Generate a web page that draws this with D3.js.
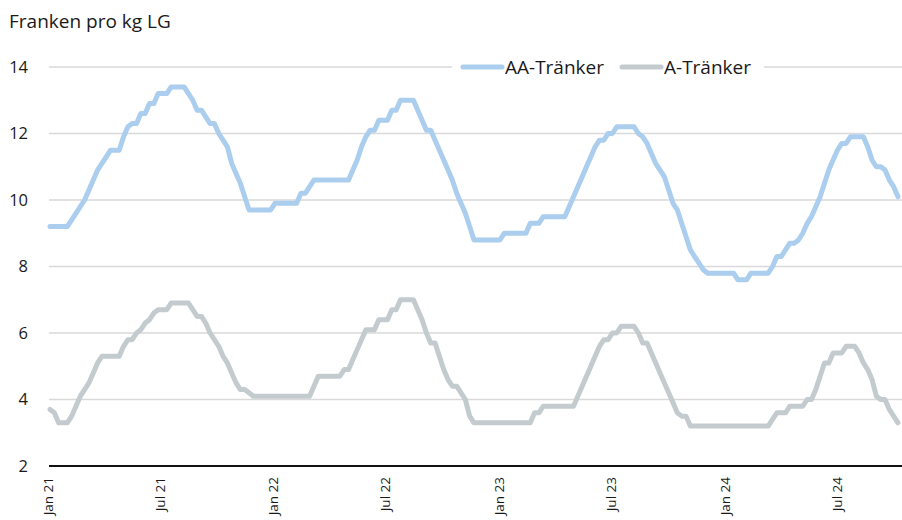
<!DOCTYPE html>
<meta charset="utf-8">
<script src="https://cdn.jsdelivr.net/npm/d3@7"></script>
<style>
  body { margin: 0; background: #fff; }
  text { font-family: "Open Sans", Lato, sans-serif; fill: #1a1a1a; }
</style>
<div id="chart"></div>
<script>

// weekly prices, first week of Jan 2021 onwards
var firstWeek = new Date(2021, 0, 4);

var aaTraenker = [
  9.2, 9.2, 9.2, 9.2, 9.2, 9.4, 9.6, 9.8, 10.0, 10.3,
  10.6, 10.9, 11.1, 11.3, 11.5, 11.5, 11.5, 11.9, 12.2, 12.3,
  12.3, 12.6, 12.6, 12.9, 12.9, 13.2, 13.2, 13.2, 13.4, 13.4,
  13.4, 13.4, 13.2, 13.0, 12.7, 12.7, 12.5, 12.3, 12.3, 12.0,
  11.8, 11.6, 11.1, 10.8, 10.5, 10.1, 9.7, 9.7, 9.7, 9.7,
  9.7, 9.7, 9.9, 9.9, 9.9, 9.9, 9.9, 9.9, 10.2, 10.2,
  10.4, 10.6, 10.6, 10.6, 10.6, 10.6, 10.6, 10.6, 10.6, 10.6,
  10.9, 11.2, 11.6, 11.9, 12.1, 12.1, 12.4, 12.4, 12.4, 12.7,
  12.7, 13.0, 13.0, 13.0, 13.0, 12.7, 12.4, 12.1, 12.1, 11.8,
  11.5, 11.2, 10.9, 10.6, 10.2, 9.9, 9.6, 9.2, 8.8, 8.8,
  8.8, 8.8, 8.8, 8.8, 8.8, 9.0, 9.0, 9.0, 9.0, 9.0,
  9.0, 9.3, 9.3, 9.3, 9.5, 9.5, 9.5, 9.5, 9.5, 9.5,
  9.8, 10.1, 10.4, 10.7, 11.0, 11.3, 11.6, 11.8, 11.8, 12.0,
  12.0, 12.2, 12.2, 12.2, 12.2, 12.2, 12.0, 11.9, 11.7, 11.4,
  11.1, 10.9, 10.7, 10.3, 9.9, 9.7, 9.3, 8.9, 8.5, 8.3,
  8.1, 7.9, 7.8, 7.8, 7.8, 7.8, 7.8, 7.8, 7.8, 7.6,
  7.6, 7.6, 7.8, 7.8, 7.8, 7.8, 7.8, 8.0, 8.3, 8.3,
  8.5, 8.7, 8.7, 8.8, 9.0, 9.3, 9.5, 9.8, 10.1, 10.5,
  10.9, 11.2, 11.5, 11.7, 11.7, 11.9, 11.9, 11.9, 11.9, 11.6,
  11.2, 11.0, 11.0, 10.9, 10.6, 10.4, 10.1
];

var aTraenker = [
  3.7, 3.6, 3.3, 3.3, 3.3, 3.5, 3.8, 4.1, 4.3, 4.5,
  4.8, 5.1, 5.3, 5.3, 5.3, 5.3, 5.3, 5.6, 5.8, 5.8,
  6.0, 6.1, 6.3, 6.4, 6.6, 6.7, 6.7, 6.7, 6.9, 6.9,
  6.9, 6.9, 6.9, 6.7, 6.5, 6.5, 6.3, 6.0, 5.8, 5.6,
  5.3, 5.1, 4.8, 4.5, 4.3, 4.3, 4.2, 4.1, 4.1, 4.1,
  4.1, 4.1, 4.1, 4.1, 4.1, 4.1, 4.1, 4.1, 4.1, 4.1,
  4.1, 4.4, 4.7, 4.7, 4.7, 4.7, 4.7, 4.7, 4.9, 4.9,
  5.2, 5.5, 5.8, 6.1, 6.1, 6.1, 6.4, 6.4, 6.4, 6.7,
  6.7, 7.0, 7.0, 7.0, 7.0, 6.7, 6.4, 6.0, 5.7, 5.7,
  5.3, 4.9, 4.6, 4.4, 4.4, 4.2, 4.0, 3.5, 3.3, 3.3,
  3.3, 3.3, 3.3, 3.3, 3.3, 3.3, 3.3, 3.3, 3.3, 3.3,
  3.3, 3.3, 3.6, 3.6, 3.8, 3.8, 3.8, 3.8, 3.8, 3.8,
  3.8, 3.8, 4.1, 4.4, 4.7, 5.0, 5.3, 5.6, 5.8, 5.8,
  6.0, 6.0, 6.2, 6.2, 6.2, 6.2, 6.0, 5.7, 5.7, 5.4,
  5.1, 4.8, 4.5, 4.2, 3.9, 3.6, 3.5, 3.5, 3.2, 3.2,
  3.2, 3.2, 3.2, 3.2, 3.2, 3.2, 3.2, 3.2, 3.2, 3.2,
  3.2, 3.2, 3.2, 3.2, 3.2, 3.2, 3.2, 3.4, 3.6, 3.6,
  3.6, 3.8, 3.8, 3.8, 3.8, 4.0, 4.0, 4.3, 4.7, 5.1,
  5.1, 5.4, 5.4, 5.4, 5.6, 5.6, 5.6, 5.4, 5.1, 4.9,
  4.6, 4.1, 4.0, 4.0, 3.7, 3.5, 3.3
];

var seriesNames = ["AA-Tränker", "A-Tränker"];
var seriesColors = ["#abcdee", "#c4cbce"];

var yTicks = [2, 4, 6, 8, 10, 12, 14];
var xTickDates = [
  new Date(2021, 0, 1), new Date(2021, 6, 1), new Date(2022, 0, 1), new Date(2022, 6, 1),
  new Date(2023, 0, 1), new Date(2023, 6, 1), new Date(2024, 0, 1), new Date(2024, 6, 1)
];
var xTickLabels = ["Jan 21", "Jul 21", "Jan 22", "Jul 22", "Jan 23", "Jul 23", "Jan 24", "Jul 24"];

var dates = aaTraenker.map(function(d, i) { return d3.timeDay.offset(firstWeek, i * 7); });

var width = 902, height = 520;
var margin = {top: 67, right: 4, bottom: 54, left: 50};

var svg = d3.select("#chart")
  .append("svg")
    .attr("width", width)
    .attr("height", height);

var x = d3.scaleTime()
  .domain([dates[0], dates[dates.length - 1]])
  .range([margin.left, width - margin.right]);

var y = d3.scaleLinear()
  .domain([2, 14])
  .range([height - margin.bottom, margin.top]);

// title
svg.append("text")
  .attr("x", 9)
  .attr("y", 28)
  .style("font-size", "19px")
  .text("Franken pro kg LG");

// gridlines
svg.append("g")
  .selectAll("line")
  .data(yTicks.slice(1))
  .enter()
  .append("line")
    .attr("x1", 49)
    .attr("x2", width)
    .attr("y1", function(d) { return y(d); })
    .attr("y2", function(d) { return y(d); })
    .attr("stroke", "#d9d9d9")
    .attr("stroke-width", 1.5);

// y labels
svg.append("g")
  .selectAll("text")
  .data(yTicks)
  .enter()
  .append("text")
    .attr("x", 28)
    .attr("y", function(d) { return y(d); })
    .attr("dy", "0.35em")
    .attr("text-anchor", "end")
    .style("font-size", "16.5px")
    .text(function(d) { return d; });

// base axis
svg.append("line")
  .attr("x1", 49)
  .attr("x2", width)
  .attr("y1", y(2))
  .attr("y2", y(2))
  .attr("stroke", "#111")
  .attr("stroke-width", 2);

// x labels
svg.append("g")
  .selectAll("text")
  .data(xTickDates)
  .enter()
  .append("text")
    .attr("transform", function(d) { return "translate(" + x(d) + "," + 477 + ") rotate(-90)"; })
    .attr("dy", "0.35em")
    .attr("text-anchor", "end")
    .style("font-size", "13.5px")
    .text(function(d, i) { return xTickLabels[i]; });

// lines
var line = d3.line()
  .x(function(d, i) { return x(dates[i]); })
  .y(function(d) { return y(d); });

[aTraenker, aaTraenker].forEach(function(s, k) {
  svg.append("path")
    .datum(s)
    .attr("fill", "none")
    .attr("stroke", seriesColors[1 - k])
    .attr("stroke-width", 5)
    .attr("stroke-linejoin", "round")
    .attr("stroke-linecap", "round")
    .attr("d", line);
});

// legend, sits on the top gridline
var legend = svg.append("g");
legend.append("rect")
  .attr("x", 452)
  .attr("y", y(14) - 13)
  .attr("width", 312)
  .attr("height", 26)
  .attr("fill", "#fff");

var legendX = [463, 622];
seriesNames.forEach(function(name, i) {
  legend.append("line")
    .attr("x1", legendX[i])
    .attr("x2", legendX[i] + 39)
    .attr("y1", y(14))
    .attr("y2", y(14))
    .attr("stroke", seriesColors[i])
    .attr("stroke-width", 5)
    .attr("stroke-linecap", "round");
  legend.append("text")
    .attr("x", legendX[i] + 42)
    .attr("y", y(14))
    .attr("dy", "0.35em")
    .style("font-size", "19px")
    .text(name);
});

</script>
